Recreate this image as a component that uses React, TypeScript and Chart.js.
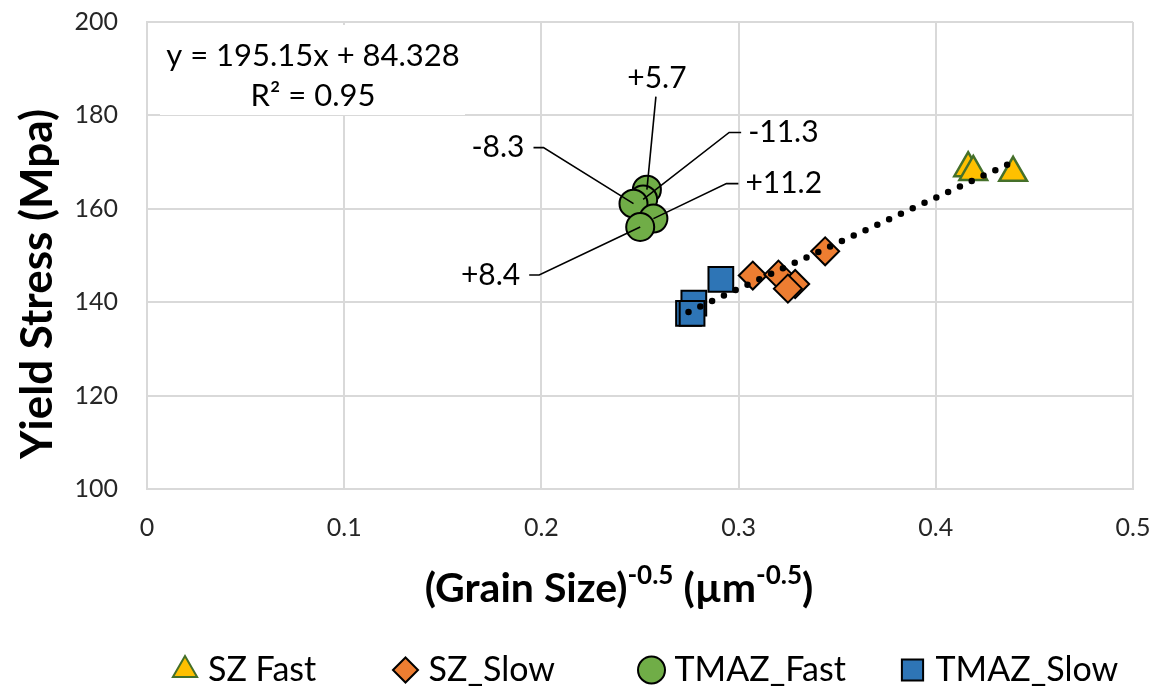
import React, { useEffect, useRef } from 'react';
import { Chart, registerables } from 'chart.js';
import { drawPoint } from 'chart.js/helpers';

Chart.register(...registerables);

// ---------- data ----------
const szFastX = [0.4164, 0.419, 0.4392];
const szFastY = [168.7, 167.9, 167.7];
const szSlowX = [0.3072, 0.3202, 0.3287, 0.325, 0.3439];
const szSlowY = [145.7, 145.9, 143.9, 142.9, 150.9];
const tmazFastX = [0.2535, 0.2516, 0.2467, 0.2568, 0.2501];
const tmazFastY = [164.1, 162.0, 161.1, 157.9, 156.1];
const tmazFastLabels = ['+5.7', '-11.3', '-8.3', '+11.2', '+8.4'];
const tmazSlowX = [0.291, 0.2773, 0.2746, 0.2764];
const tmazSlowY = [144.9, 139.8, 137.6, 137.6];

const seriesNames = ['SZ Fast', 'SZ_Slow', 'TMAZ_Fast', 'TMAZ_Slow'];
const xTickLabels = ['0', '0.1', '0.2', '0.3', '0.4', '0.5'];
const yTickLabels = ['100', '120', '140', '160', '180', '200'];

const trendSlope = 195.15;
const trendIntercept = 84.328;
const trendText = ['y = 195.15x + 84.328', 'R\u00B2 = 0.95'];

// ---------- styling ----------
const FONT = 'Lato';
const labelLayout = [
  { side: 'top', dx: 9, dy: -93 },
  { side: 'right', dx: 86, dy: -67 },
  { side: 'left', dx: -90, dy: -56 },
  { side: 'right', dx: 73, dy: -35 },
  { side: 'left', dx: -101, dy: 48 },
];
const legendCenters = [185, 405.5, 651.5, 912.5];
const legendRadius = [14, 12.5, 13.5, 15];
const legendY = 670;

const toPts = (xs: number[], ys: number[]) => xs.map((x, i) => ({ x, y: ys[i] }));

const fitXs = [...szFastX, ...szSlowX, ...tmazSlowX];
const trendX0 = Math.min(...fitXs);
const trendX1 = Math.max(...fitXs);

const textPlugin = {
  id: 'customText',
  afterDraw(chart: any) {
    const ctx = chart.ctx as CanvasRenderingContext2D;
    ctx.save();

    // equation box
    ctx.fillStyle = '#ffffff';
    ctx.fillRect(160, 25, 305, 90);
    ctx.fillStyle = '#000';
    ctx.font = `31px ${FONT}`;
    ctx.textAlign = 'center';
    ctx.textBaseline = 'middle';
    ctx.fillText(trendText[0], 313, 56);
    ctx.fillText(trendText[1], 313, 96);

    // TMAZ_Fast data labels with leader lines
    const meta = chart.getDatasetMeta(2);
    ctx.strokeStyle = '#000';
    ctx.lineWidth = 1.6;
    ctx.font = `30px ${FONT}`;
    meta.data.forEach((el: any, i: number) => {
      const L = labelLayout[i];
      const px = el.x;
      const py = el.y;
      const ex = px + L.dx;
      const ey = py + L.dy;
      ctx.beginPath();
      ctx.moveTo(px, py);
      ctx.lineTo(ex, ey);
      if (L.side === 'right') {
        ctx.lineTo(ex + 12, ey);
        ctx.stroke();
        ctx.textAlign = 'left';
        ctx.fillText(tmazFastLabels[i], ex + 19, ey);
      } else if (L.side === 'left') {
        ctx.lineTo(ex - 10, ey);
        ctx.stroke();
        ctx.textAlign = 'right';
        ctx.fillText(tmazFastLabels[i], ex - 19, ey);
      } else {
        ctx.stroke();
        ctx.textAlign = 'center';
        ctx.fillText(tmazFastLabels[i], ex + 1, ey - 18);
      }
    });

    // y axis title
    ctx.save();
    ctx.translate(38, 284);
    ctx.rotate(-Math.PI / 2);
    ctx.font = `bold 44px ${FONT}`;
    ctx.textAlign = 'center';
    ctx.textBaseline = 'middle';
    ctx.fillStyle = '#000';
    ctx.fillText('Yield Stress (Mpa)', 0, 0);
    ctx.restore();

    // x axis title with superscripts
    const segs = [
      { t: '(Grain Size)', sup: false },
      { t: '-0.5', sup: true },
      { t: ' (\u00B5m', sup: false },
      { t: '-0.5', sup: true },
      { t: ')', sup: false },
    ];
    const mainFont = `bold 41px ${FONT}`;
    const supFont = `bold 26px ${FONT}`;
    let total = 0;
    segs.forEach((s) => {
      ctx.font = s.sup ? supFont : mainFont;
      total += ctx.measureText(s.t).width;
    });
    let cx = 619 - total / 2;
    const cy = 589;
    ctx.textAlign = 'left';
    ctx.textBaseline = 'middle';
    ctx.fillStyle = '#000';
    segs.forEach((s) => {
      ctx.font = s.sup ? supFont : mainFont;
      ctx.fillText(s.t, cx, s.sup ? cy - 13 : cy);
      cx += ctx.measureText(s.t).width;
    });

    // legend (from the datasets)
    ctx.font = `34px ${FONT}`;
    ctx.textAlign = 'left';
    ctx.textBaseline = 'middle';
    for (let i = 0; i < 4; i++) {
      const ds = chart.data.datasets[i];
      ctx.fillStyle = ds.backgroundColor;
      ctx.strokeStyle = ds.borderColor;
      ctx.lineWidth = 2;
      drawPoint(ctx, { pointStyle: ds.pointStyle, radius: legendRadius[i], rotation: 0, borderWidth: 2 } as any, legendCenters[i], legendY);
      ctx.fillStyle = '#000';
      ctx.fillText(ds.label, legendCenters[i] + 23, legendY);
    }
    ctx.restore();
  },
};

export default function App() {
  const ref = useRef<HTMLCanvasElement | null>(null);

  useEffect(() => {
    if (!ref.current) return;
    const chart = new Chart(ref.current, {
      type: 'scatter',
      data: {
        datasets: [
          {
            label: seriesNames[0],
            data: toPts(szFastX, szFastY),
            pointStyle: 'triangle',
            pointRadius: 16,
            pointHoverRadius: 16,
            backgroundColor: '#FFC000',
            borderColor: '#45702A',
            borderWidth: 2.5,
          },
          {
            label: seriesNames[1],
            data: toPts(szSlowX, szSlowY),
            pointStyle: 'rectRot',
            pointRadius: 14,
            pointHoverRadius: 14,
            backgroundColor: '#ED7D31',
            borderColor: '#000000',
            borderWidth: 2,
          },
          {
            label: seriesNames[2],
            data: toPts(tmazFastX, tmazFastY),
            pointStyle: 'circle',
            pointRadius: 14,
            pointHoverRadius: 14,
            backgroundColor: '#70AD47',
            borderColor: '#000000',
            borderWidth: 2,
          },
          {
            label: seriesNames[3],
            data: toPts(tmazSlowX, tmazSlowY),
            pointStyle: 'rect',
            pointRadius: 17.5,
            pointHoverRadius: 17.5,
            backgroundColor: '#2E75B6',
            borderColor: '#000000',
            borderWidth: 2,
          },
          {
            label: 'Linear',
            data: [
              { x: trendX0, y: trendSlope * trendX0 + trendIntercept },
              { x: trendX1, y: trendSlope * trendX1 + trendIntercept },
            ],
            showLine: true,
            pointRadius: 0,
            borderColor: '#000000',
            borderWidth: 6.5,
            borderDash: [0, 13],
            borderCapStyle: 'round',
            fill: false,
            order: -1,
          } as any,
        ],
      },
      options: {
        responsive: false,
        animation: false,
        layout: { padding: { top: 22, right: 28, left: 0, bottom: 0 } },
        plugins: {
          tooltip: { enabled: false },
          legend: { display: false },
        },
        scales: {
          x: {
            type: 'linear',
            min: 0,
            max: 0.5,
            afterFit: (scale: any) => {
              scale.height = 204;
              scale.paddingLeft = 0;
              scale.paddingRight = 0;
            },
            ticks: {
              stepSize: 0.1,
              padding: 24,
              color: '#262626',
              font: { family: FONT, size: 25 },
              callback: (_v: any, i: number) => xTickLabels[i],
            },
            grid: { color: '#d9d9d9', lineWidth: 2, drawTicks: false },
            border: { color: '#d9d9d9', width: 2 },
          },
          y: {
            type: 'linear',
            min: 100,
            max: 200,
            afterFit: (scale: any) => {
              scale.width = 147;
              scale.paddingTop = 0;
              scale.paddingBottom = 0;
            },
            ticks: {
              stepSize: 20,
              padding: 29,
              color: '#262626',
              font: { family: FONT, size: 25 },
              callback: (_v: any, i: number) => yTickLabels[i],
            },
            grid: { color: '#d9d9d9', lineWidth: 2, drawTicks: false },
            border: { color: '#d9d9d9', width: 2 },
          },
        },
      },
      plugins: [textPlugin],
    } as any);
    return () => chart.destroy();
  }, []);

  return (
    <div style={{ position: 'fixed', left: 0, top: 0, width: 1161, height: 693, background: '#fff' }}>
      <canvas ref={ref} width={1161} height={693} />
    </div>
  );
}
